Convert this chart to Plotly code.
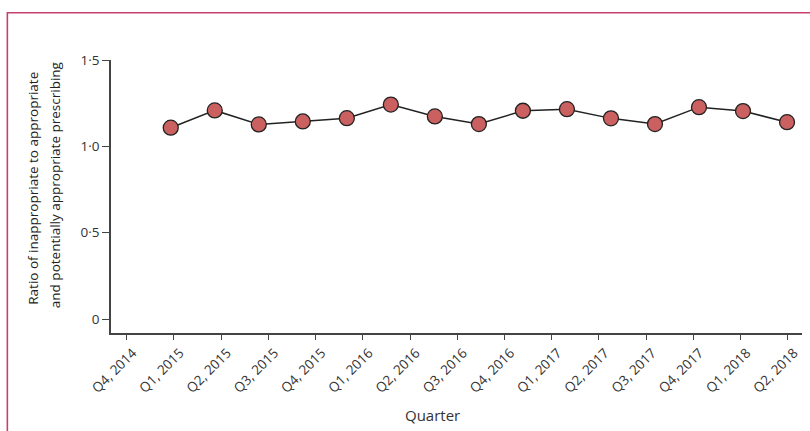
import plotly.graph_objects as go

quarters = ["Q4, 2014", "Q1, 2015", "Q2, 2015", "Q3, 2015", "Q4, 2015",
            "Q1, 2016", "Q2, 2016", "Q3, 2016", "Q4, 2016", "Q1, 2017",
            "Q2, 2017", "Q3, 2017", "Q4, 2017", "Q1, 2018", "Q2, 2018"]
ratio = [1.108, 1.208, 1.127, 1.144, 1.163, 1.242, 1.173, 1.129,
         1.206, 1.215, 1.162, 1.129, 1.227, 1.204, 1.140]
y_tickvals = [0, 0.5, 1.0, 1.5]
y_ticktext = ["0", "0·5", "1·0", "1·5"]
y_title_lines = ["Ratio of inappropriate to appropriate",
                 "and potentially appropriate prescribing"]
x_title = "Quarter"

FONT = "Open Sans"
AXIS_COLOR = "#444444"
TEXT_COLOR = "#333333"

fig = go.Figure()
fig.add_trace(go.Scatter(
    x=quarters, y=ratio, xaxis="x2", yaxis="y",
    mode="lines+markers",
    line=dict(color="#222222", width=1.5),
    marker=dict(size=15, color="#cb6060", line=dict(color="#222222", width=1.3)),
    showlegend=False, hoverinfo="x+y",
))
fig.add_trace(go.Scatter(x=quarters, y=[None] * len(quarters), xaxis="x", yaxis="y",
                         mode="markers", showlegend=False, hoverinfo="skip"))

fig.update_layout(
    width=810, height=431,
    margin=dict(l=111, r=8, t=60, b=98),
    paper_bgcolor="white", plot_bgcolor="white",
    font=dict(family=FONT, color=TEXT_COLOR, size=13),
    xaxis=dict(
        type="category", categoryorder="array", categoryarray=quarters,
        range=[-0.333, 14.30],
        showline=True, linecolor=AXIS_COLOR, linewidth=1.6,
        ticks="outside", ticklen=5, tickwidth=1.2, tickcolor=AXIS_COLOR,
        tickangle=-45, showgrid=False, zeroline=False,
        ticklabelshift=6,
        tickfont=dict(family=FONT, size=13.5, color=TEXT_COLOR),
    ),
    xaxis2=dict(
        type="category", categoryorder="array", categoryarray=quarters,
        overlaying="x", visible=False, range=[-1.357, 14.34],
    ),
    yaxis=dict(
        range=[-0.081, 1.5],
        tickvals=y_tickvals, ticktext=y_ticktext,
        showline=True, linecolor=AXIS_COLOR, linewidth=1.6,
        ticks="outside", ticklen=7, tickwidth=1.2, tickcolor=AXIS_COLOR,
        showgrid=False, zeroline=False,
        tickfont=dict(family=FONT, size=13.5, color=TEXT_COLOR),
    ),
    annotations=[
        dict(text=y_title_lines[0], xref="paper", yref="paper", x=-0.1129, y=0.532,
             textangle=-90, showarrow=False, xanchor="center", yanchor="middle",
             font=dict(family=FONT, size=13.5, color="#222222")),
        dict(text=y_title_lines[1], xref="paper", yref="paper", x=-0.0811, y=0.545,
             textangle=-90, showarrow=False, xanchor="center", yanchor="middle",
             font=dict(family=FONT, size=13.5, color="#222222")),
        dict(text=x_title, xref="paper", yref="paper", x=0.465, y=-0.299,
             showarrow=False, xanchor="center", yanchor="middle",
             font=dict(family=FONT, size=15, color=TEXT_COLOR)),
    ],
    shapes=[dict(
        type="path", xref="paper", yref="paper",
        path="M -0.150,-0.40 L -0.150,1.173 L 1.02,1.173",
        line=dict(color="#c8406e", width=1.6),
    )],
)

fig.write_html("out.html")
